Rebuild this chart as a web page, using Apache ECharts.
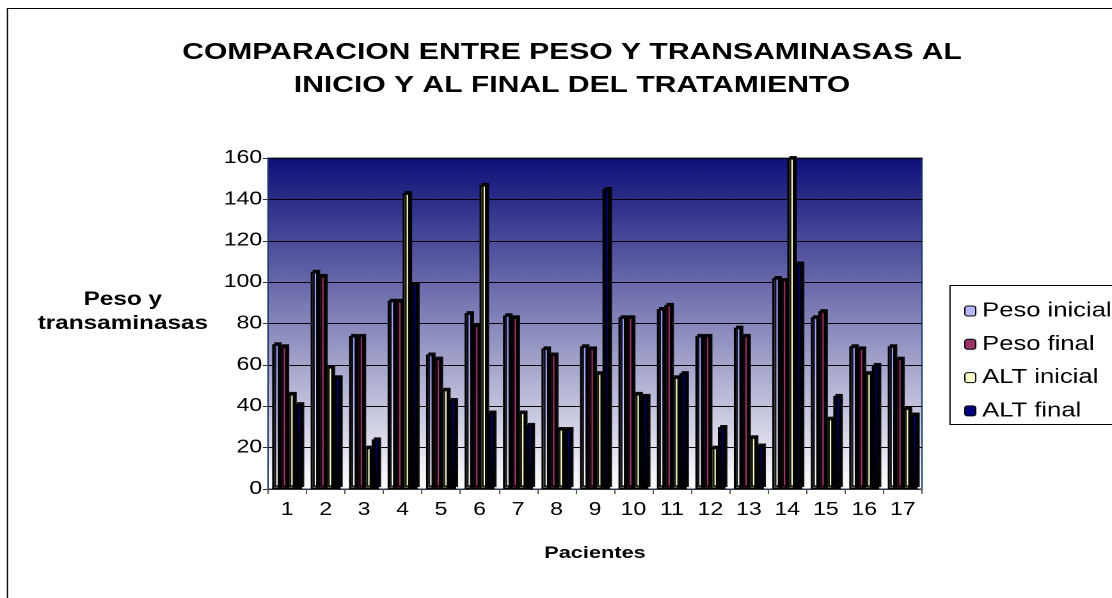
<!DOCTYPE html>
<html><head><meta charset="utf-8">
<script src="https://cdn.jsdelivr.net/npm/echarts@6/dist/echarts.min.js"></script>
<style>
html,body{margin:0;padding:0;background:#fff;overflow:hidden;width:1112px;height:598px}
#c{width:869px;height:598px;transform:scaleX(1.27963);transform-origin:0 0}
</style>
</head><body><div id="c"></div>
<script>
const categories = ['1','2','3','4','5','6','7','8','9','10','11','12','13','14','15','16','17'];
const pesoInicial = [70,105,74,91,65,85,84,68,69,83,87,74,78,102,83,69,69];
const pesoFinal   = [69,103,74,91,63,79,83,65,68,83,89,74,74,101,86,68,63];
const altInicial  = [46,59,20,143,48,147,37,29,56,46,54,20,25,160,34,56,39];
const altFinal    = [41,54,24,99,43,37,31,29,145,45,56,30,21,109,45,60,36];
const yTicks = [0,20,40,60,80,100,120,140,160];

const font = 'Liberation Sans, Arial, sans-serif';
const chart = echarts.init(document.getElementById('c'), null, {devicePixelRatio:2});
function grad(top, bottom){
  return new echarts.graphic.LinearGradient(0,0,0,1,[{offset:0,color:top},{offset:1,color:bottom}]);
}
function bar(name, data, color){
  return {
    name, type:'bar', data,
    barGap:'0%', barCategoryGap:'22%',
    itemStyle:{color, borderColor:'#000', borderWidth:1.6,
      shadowColor:'rgba(0,0,0,0.9)', shadowOffsetX:1.6, shadowOffsetY:-2, shadowBlur:0},
    emphasis:{disabled:true}
  };
}
const legendIcon = {borderColor:'#000', borderWidth:1, shadowOffsetX:0, shadowOffsetY:0, shadowColor:'transparent'};
chart.setOption({
  animation:false,
  backgroundColor:'#fff',
  title:{
    text:'COMPARACION ENTRE PESO Y TRANSAMINASAS AL\nINICIO Y AL FINAL DEL TRATAMIENTO',
    left:442, top:31, textAlign:'center',
    textStyle:{fontFamily:font, fontSize:23.5, fontWeight:'bold', color:'#000', lineHeight:33}
  },
  legend:{
    orient:'vertical', left:748.5, top:296, itemGap:13.3,
    itemWidth:8.5, itemHeight:10,
    textStyle:{fontFamily:font, fontSize:20, color:'#000', lineHeight:20},
    data:[
      {name:'Peso inicial', itemStyle:Object.assign({color:'#b8b8ff'}, legendIcon)},
      {name:'Peso final', itemStyle:Object.assign({color:'#993366'}, legendIcon)},
      {name:'ALT inicial', itemStyle:Object.assign({color:'#ffffcc'}, legendIcon)},
      {name:'ALT final', itemStyle:Object.assign({color:'#000080'}, legendIcon)}
    ]
  },
  grid:{
    left:209.4, right:148.5, top:158, bottom:109,
    show:true, borderColor:'#1a3a6a', borderWidth:1,
    backgroundColor: grad('#0e0e78','#ffffff')
  },
  xAxis:{
    type:'category', data:categories,
    name:'Pacientes', nameLocation:'middle', nameGap:56,
    nameTextStyle:{fontFamily:font, fontSize:17, fontWeight:'bold', color:'#000'},
    axisLine:{lineStyle:{color:'#333', width:1}},
    axisTick:{show:true, length:5, lineStyle:{color:'#555'}},
    axisLabel:{fontFamily:font, fontSize:18, color:'#000', margin:12}
  },
  yAxis:{
    type:'value', min:yTicks[0], max:yTicks[yTicks.length-1], interval:20,
    axisLine:{show:true, lineStyle:{color:'#1a3a6a', width:1}},
    axisTick:{show:true, length:4, lineStyle:{color:'#333'}},
    axisLabel:{fontFamily:font, fontSize:18, color:'#000', margin:4.5},
    splitLine:{lineStyle:{color:'#000', width:1}}
  },
  graphic:[
    {type:'rect', shape:{x:5.8, y:8.5, width:1000, height:700}, style:{fill:'none', stroke:'#000', lineWidth:1}, silent:true, z:-1},
    {type:'rect', shape:{x:742.4, y:285.5, width:300, height:139}, style:{fill:'none', stroke:'#000', lineWidth:1}, silent:true},
    {type:'text', x:96, y:312, style:{text:'Peso y\ntransaminasas', align:'center', verticalAlign:'middle',
      fontFamily:font, fontSize:19, fontWeight:'bold', fill:'#000', lineHeight:24}}
  ],
  series:[
    bar('Peso inicial', pesoInicial, grad('#9999ff','#ffffff')),
    bar('Peso final', pesoFinal, grad('#993366','#a34070')),
    bar('ALT inicial', altInicial, '#ffffcc'),
    bar('ALT final', altFinal, grad('#000080','#000010'))
  ]
});
</script></body></html>
